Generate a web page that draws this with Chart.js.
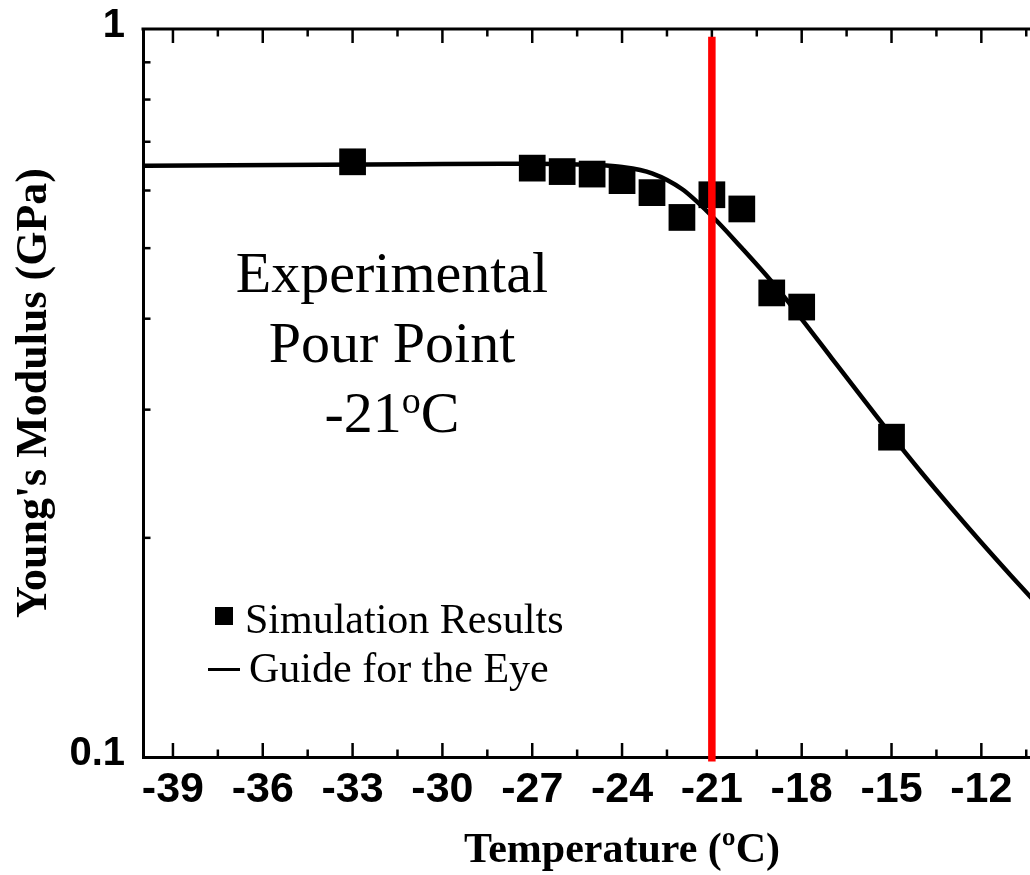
<!DOCTYPE html>
<html>
<head>
<meta charset="utf-8">
<title>Young's Modulus vs Temperature</title>
<script src="https://cdn.jsdelivr.net/npm/chart.js@4/dist/chart.umd.min.js"></script>
<style>
  html, body { margin: 0; padding: 0; background: #ffffff; overflow: hidden; }
  #wrap { position: absolute; left: 0; top: 0; width: 1120px; height: 875px; }
</style>
</head>
<body>
<div id="wrap"><canvas id="chart" width="1120" height="875"></canvas></div>
<script>
// Axis ticks
const tempTicks = [-39, -36, -33, -30, -27, -24, -21, -18, -15, -12];
const tempMinorTicks = [-37.5, -34.5, -31.5, -28.5, -25.5, -22.5, -19.5, -16.5, -13.5, -10.5];
const modulusTicks = [0.1, 1];
const modulusMinorTicks = [0.2, 0.3, 0.4, 0.5, 0.6, 0.7, 0.8, 0.9];

// Simulation results (°C, GPa)
const simTemps   = [-33, -27, -26, -25, -24, -23, -22, -21, -20, -19, -18, -15];
const simModulus = [0.657, 0.644, 0.637, 0.632, 0.619, 0.596, 0.551, 0.592, 0.566, 0.434, 0.415, 0.275];

// Guide for the eye (°C, GPa)
const guideTemps   = [-40, -37, -34, -31, -28, -27, -26, -25, -24, -23, -22, -21, -20, -19, -18, -17, -16, -15, -14, -13, -12, -11, -10];
const guideModulus = [0.649, 0.650, 0.651, 0.652, 0.653, 0.653, 0.6525, 0.6504, 0.6463, 0.6336, 0.6029, 0.5535, 0.5002, 0.4497, 0.3996, 0.3532, 0.3123, 0.2765, 0.2459, 0.2198, 0.1971, 0.1773, 0.1599];

// Experimental pour point marker
const pourPointTemp = -21;
const pourPointRange = [0.0986, 0.976];

const SERIF = "'Liberation Serif', 'Times New Roman', Times, serif";
const SANS = "'Liberation Sans', Arial, Helvetica, sans-serif";

// Inward tick marks and the top frame line
const frameTicks = {
  id: 'frameTicks',
  beforeDatasetsDraw(chart) {
    const { ctx, chartArea: a, scales: { x, y } } = chart;
    ctx.save();
    ctx.strokeStyle = '#000';
    ctx.lineCap = 'butt';
    ctx.lineWidth = 3;
    ctx.beginPath();
    ctx.moveTo(a.left - 1.5, a.top);
    ctx.lineTo(a.right, a.top);
    ctx.stroke();

    const seg = (x0, y0, x1, y1) => {
      ctx.beginPath(); ctx.moveTo(x0, y0); ctx.lineTo(x1, y1); ctx.stroke();
    };
    ctx.lineWidth = 2.5;
    tempTicks.forEach(v => {
      const px = x.getPixelForValue(v);
      seg(px, a.bottom, px, a.bottom - 14);
      seg(px, a.top, px, a.top + 14);
    });
    tempMinorTicks.forEach(v => {
      const px = x.getPixelForValue(v);
      seg(px, a.bottom, px, a.bottom - 7.5);
      seg(px, a.top, px, a.top + 7.5);
    });
    modulusMinorTicks.forEach(v => {
      const py = y.getPixelForValue(v);
      seg(a.left, py, a.left + 7.5, py);
      seg(a.right, py, a.right - 7.5, py);
    });
    ctx.restore();
  }
};

// In-plot annotation and legend
const notes = {
  id: 'notes',
  afterDatasetsDraw(chart) {
    const { ctx } = chart;
    ctx.save();
    ctx.fillStyle = '#000';
    ctx.textBaseline = 'alphabetic';

    const big = '58px ' + SERIF;
    const small = '38px ' + SERIF;
    ctx.textAlign = 'center';
    ctx.font = big;
    ctx.fillText('Experimental', 392, 292);
    ctx.fillText('Pour Point', 392, 362);

    ctx.textAlign = 'left';
    ctx.font = big;
    const w1 = ctx.measureText('-21').width;
    const w3 = ctx.measureText('C').width;
    ctx.font = small;
    const w2 = ctx.measureText('o').width;
    let x0 = 392 - (w1 + w2 + w3) / 2;
    ctx.font = big;
    ctx.fillText('-21', x0, 432);
    ctx.font = small;
    ctx.fillText('o', x0 + w1, 413);
    ctx.font = big;
    ctx.fillText('C', x0 + w1 + w2, 432);

    // legend
    ctx.fillRect(215, 607, 18, 18);
    ctx.font = '42px ' + SERIF;
    ctx.fillText('Simulation Results', 245, 633);
    ctx.strokeStyle = '#000';
    ctx.lineWidth = 3;
    ctx.beginPath();
    ctx.moveTo(208, 669.5);
    ctx.lineTo(240, 669.5);
    ctx.stroke();
    ctx.fillText('Guide for the Eye', 249, 682);
    ctx.restore();
  }
};

const pourPointLine = {
  label: 'Experimental Pour Point',
  data: pourPointRange.map(v => ({ x: pourPointTemp, y: v })),
  showLine: true,
  borderColor: '#ff0000',
  borderWidth: 7.5,
  pointRadius: 0,
  clip: false
};

const simulation = {
  label: 'Simulation Results',
  data: simTemps.map((t, i) => ({ x: t, y: simModulus[i] })),
  showLine: false,
  pointStyle: 'rect',
  pointRadius: 18.9,
  pointBorderWidth: 0,
  backgroundColor: '#000',
  borderColor: '#000'
};

const guide = {
  label: 'Guide for the Eye',
  data: guideTemps.map((t, i) => ({ x: t, y: guideModulus[i] })),
  showLine: true,
  borderColor: '#000',
  borderWidth: 4.5,
  pointRadius: 0,
  cubicInterpolationMode: 'monotone'
};

new Chart(document.getElementById('chart'), {
  type: 'scatter',
  data: { datasets: [pourPointLine, simulation, guide] },
  options: {
    responsive: false,
    animation: false,
    devicePixelRatio: 1,
    layout: { padding: { left: 0, top: 29, right: 18.4, bottom: 0 } },
    plugins: { legend: { display: false }, tooltip: { enabled: false } },
    scales: {
      x: {
        type: 'linear',
        min: -40,
        max: -8,
        afterBuildTicks: s => { s.ticks = tempTicks.map(v => ({ value: v })); },
        afterFit: s => { s.height = 118; s.paddingLeft = 0; s.paddingRight = 0; },
        grid: { display: true, drawOnChartArea: false, drawTicks: false },
        border: { display: true, width: 3, color: '#000' },
        ticks: {
          autoSkip: false,
          maxRotation: 0,
          padding: 12,
          color: '#000',
          font: { family: SANS, size: 43, weight: 'bold', lineHeight: 1 },
          callback: v => String(v)
        },
        title: {
          display: true,
          text: 'Temperature (ºC)',
          color: '#000',
          font: { family: SERIF, size: 42, weight: 'bold', lineHeight: 1 },
          padding: { top: 0, bottom: 3 }
        }
      },
      y: {
        type: 'logarithmic',
        min: 0.1,
        max: 1,
        afterBuildTicks: s => { s.ticks = modulusTicks.map(v => ({ value: v })); },
        afterFit: s => { s.width = 143; s.paddingTop = 0; s.paddingBottom = 0; },
        grid: { display: true, drawOnChartArea: false, drawTicks: false },
        border: { display: true, width: 3, color: '#000' },
        ticks: {
          autoSkip: false,
          padding: 18,
          labelOffset: -3,
          color: '#000',
          font: { family: SANS, size: 40, weight: 'bold', lineHeight: 1 },
          callback: v => String(v)
        },
        title: {
          display: true,
          text: "Young's Modulus (GPa)",
          color: '#000',
          font: { family: SERIF, size: 44, weight: 'bold', lineHeight: 1 },
          padding: { top: 13, bottom: 0 }
        }
      }
    }
  },
  plugins: [frameTicks, notes]
});
</script>
</body>
</html>
